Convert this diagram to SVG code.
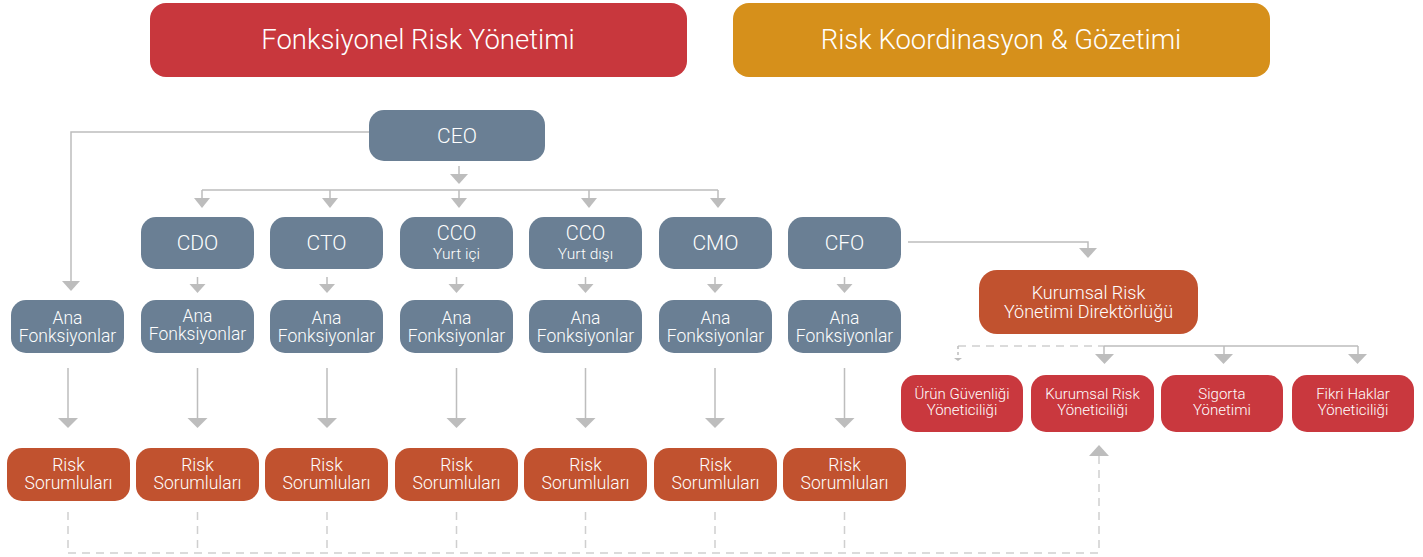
<svg xmlns="http://www.w3.org/2000/svg" width="1423" height="557" viewBox="0 0 1423 557">
<style>
.t{font-family:Roboto,"Liberation Sans",Arial,sans-serif;font-weight:300;fill:#fff;text-anchor:middle}
.m{font-size:17.5px}
.s{font-size:15px}
.slate{fill:#6A7F94}
.rust{fill:#C1522F}
.red{fill:#C9383E}
.ln{stroke:#BDBDBD;stroke-width:1.5;fill:none}
.dl{stroke:#CFCFCF;stroke-width:1.5;fill:none;stroke-dasharray:8 6}
.ah{fill:#BDBDBD}
</style>
<rect width="1423" height="557" fill="#fff"/>
<g id="header-fonksiyonel"><rect x="150" y="3" width="537" height="74" rx="16" fill="#C8373D"/><text class="t" x="418" y="49" font-size="27.5">Fonksiyonel Risk Yönetimi</text></g>
<g id="header-koordinasyon"><rect x="733" y="3" width="537" height="74" rx="16" fill="#D6901B"/><text class="t" x="1001" y="49" font-size="27.5">Risk Koordinasyon &amp; Gözetimi</text></g>

<g id="connectors">
<path class="ln" d="M369 132 H71 V282"/>
<polygon class="ah" points="62,281 80,281 71,291"/>
<path class="ln" d="M459 166 V176"/>
<polygon class="ah" points="450,174 468,174 459,184"/>
<path class="ln" d="M202 190 H718"/>
<path class="ln" d="M202 190 V200 M330 190 V200 M459 190 V200 M589 190 V200 M718 190 V200"/>
<polygon class="ah" points="194,198 210,198 202,208"/>
<polygon class="ah" points="322,198 338,198 330,208"/>
<polygon class="ah" points="451,198 467,198 459,208"/>
<polygon class="ah" points="581,198 597,198 589,208"/>
<polygon class="ah" points="710,198 726,198 718,208"/>
<path class="ln" d="M197.5 277 V287 M327 277 V287 M456.5 277 V287 M585.5 277 V287 M715 277 V287 M844.5 277 V287"/>
<polygon class="ah" points="189.5,284 205.5,284 197.5,293"/>
<polygon class="ah" points="319,284 335,284 327,293"/>
<polygon class="ah" points="448.5,284 464.5,284 456.5,293"/>
<polygon class="ah" points="577.5,284 593.5,284 585.5,293"/>
<polygon class="ah" points="707,284 723,284 715,293"/>
<polygon class="ah" points="836.5,284 852.5,284 844.5,293"/>
<path class="ln" d="M68 368 V420 M197.5 368 V420 M327 368 V420 M456.5 368 V420 M585.5 368 V420 M715 368 V420 M844.5 368 V420"/>
<polygon class="ah" points="58,418 78,418 68,428"/>
<polygon class="ah" points="187.5,418 207.5,418 197.5,428"/>
<polygon class="ah" points="317,418 337,418 327,428"/>
<polygon class="ah" points="446.5,418 466.5,418 456.5,428"/>
<polygon class="ah" points="575.5,418 595.5,418 585.5,428"/>
<polygon class="ah" points="705,418 725,418 715,428"/>
<polygon class="ah" points="834.5,418 854.5,418 844.5,428"/>
<path class="ln" d="M908 242 H1088 V250"/>
<polygon class="ah" points="1079,248 1097,248 1088,258"/>
<path class="dl" d="M958 346 H1104"/>
<path class="ln" d="M958 346 V356" stroke-dasharray="3 3"/>
<polygon class="ah" points="954,358 962,358 958,361"/>
<path class="ln" d="M1104 346 H1358 M1104 346 V355 M1224 346 V355 M1358 346 V355"/>
<polygon class="ah" points="1095,354 1114,354 1104.5,364"/>
<polygon class="ah" points="1214,354 1233,354 1223.5,364"/>
<polygon class="ah" points="1348,354 1367,354 1357.5,364"/>
<path class="dl" d="M68 512 V553 M197.5 512 V553 M327 512 V553 M456.5 512 V553 M585.5 512 V553 M715 512 V553 M844.5 512 V553"/>
<path class="dl" d="M68 553 H1099 V456"/>
<polygon class="ah" points="1089,456 1109,456 1099,445"/>
</g>

<g id="ceo"><rect class="slate" x="369" y="110" width="176" height="51" rx="15"/><text class="t" x="457" y="143" font-size="21">CEO</text></g>

<g id="cdo"><rect class="slate" x="141" y="217" width="113" height="52" rx="15"/><text class="t" x="197.5" y="250" font-size="21">CDO</text></g>
<g id="cto"><rect class="slate" x="270" y="217" width="113" height="52" rx="15"/><text class="t" x="326.5" y="250" font-size="21">CTO</text></g>
<g id="cco-yurtici"><rect class="slate" x="400" y="217" width="113" height="52" rx="15"/><text class="t" x="456.5" y="240" font-size="20">CCO</text><text class="t" x="456.5" y="259" font-size="15.5">Yurt içi</text></g>
<g id="cco-yurtdisi"><rect class="slate" x="529" y="217" width="113" height="52" rx="15"/><text class="t" x="585.5" y="240" font-size="20">CCO</text><text class="t" x="585.5" y="259" font-size="15.5">Yurt dışı</text></g>
<g id="cmo"><rect class="slate" x="659" y="217" width="113" height="52" rx="15"/><text class="t" x="715.5" y="250" font-size="21">CMO</text></g>
<g id="cfo"><rect class="slate" x="788" y="217" width="113" height="52" rx="15"/><text class="t" x="844.5" y="250" font-size="21">CFO</text></g>

<g id="ana-1"><rect class="slate" x="11" y="300" width="113" height="53" rx="15"/><text class="t m" x="67.5" y="324">Ana</text><text class="t m" x="67.5" y="342">Fonksiyonlar</text></g>
<g id="ana-2"><rect class="slate" x="141" y="300" width="113" height="53" rx="15"/><text class="t m" x="197.5" y="322">Ana</text><text class="t m" x="197.5" y="340">Fonksiyonlar</text></g>
<g id="ana-3"><rect class="slate" x="270" y="300" width="113" height="53" rx="15"/><text class="t m" x="326.5" y="324">Ana</text><text class="t m" x="326.5" y="342">Fonksiyonlar</text></g>
<g id="ana-4"><rect class="slate" x="400" y="300" width="113" height="53" rx="15"/><text class="t m" x="456.5" y="324">Ana</text><text class="t m" x="456.5" y="342">Fonksiyonlar</text></g>
<g id="ana-5"><rect class="slate" x="529" y="300" width="113" height="53" rx="15"/><text class="t m" x="585.5" y="324">Ana</text><text class="t m" x="585.5" y="342">Fonksiyonlar</text></g>
<g id="ana-6"><rect class="slate" x="659" y="300" width="113" height="53" rx="15"/><text class="t m" x="715.5" y="324">Ana</text><text class="t m" x="715.5" y="342">Fonksiyonlar</text></g>
<g id="ana-7"><rect class="slate" x="788" y="300" width="113" height="53" rx="15"/><text class="t m" x="844.5" y="324">Ana</text><text class="t m" x="844.5" y="342">Fonksiyonlar</text></g>

<g id="risk-1"><rect class="rust" x="7" y="448" width="123" height="53" rx="15"/><text class="t m" x="68.5" y="471">Risk</text><text class="t m" x="68.5" y="489">Sorumluları</text></g>
<g id="risk-2"><rect class="rust" x="136" y="448" width="123" height="53" rx="15"/><text class="t m" x="197.5" y="471">Risk</text><text class="t m" x="197.5" y="489">Sorumluları</text></g>
<g id="risk-3"><rect class="rust" x="265" y="448" width="123" height="53" rx="15"/><text class="t m" x="326.5" y="471">Risk</text><text class="t m" x="326.5" y="489">Sorumluları</text></g>
<g id="risk-4"><rect class="rust" x="395" y="448" width="123" height="53" rx="15"/><text class="t m" x="456.5" y="471">Risk</text><text class="t m" x="456.5" y="489">Sorumluları</text></g>
<g id="risk-5"><rect class="rust" x="524" y="448" width="123" height="53" rx="15"/><text class="t m" x="585.5" y="471">Risk</text><text class="t m" x="585.5" y="489">Sorumluları</text></g>
<g id="risk-6"><rect class="rust" x="654" y="448" width="123" height="53" rx="15"/><text class="t m" x="715.5" y="471">Risk</text><text class="t m" x="715.5" y="489">Sorumluları</text></g>
<g id="risk-7"><rect class="rust" x="783" y="448" width="123" height="53" rx="15"/><text class="t m" x="844.5" y="471">Risk</text><text class="t m" x="844.5" y="489">Sorumluları</text></g>

<g id="kryd"><rect class="rust" x="979" y="270" width="219" height="64" rx="18"/><text class="t" x="1088.5" y="299" font-size="18">Kurumsal Risk</text><text class="t" x="1088.5" y="318" font-size="18">Yönetimi Direktörlüğü</text></g>

<g id="urun"><rect class="red" x="901" y="375" width="122" height="57" rx="15"/><text class="t s" x="962" y="399">Ürün Güvenliği</text><text class="t s" x="962" y="415">Yöneticiliği</text></g>
<g id="kry"><rect class="red" x="1031" y="375" width="123" height="57" rx="15"/><text class="t s" x="1092.5" y="399">Kurumsal Risk</text><text class="t s" x="1092.5" y="415">Yöneticiliği</text></g>
<g id="sigorta"><rect class="red" x="1161" y="375" width="122" height="57" rx="15"/><text class="t s" x="1222" y="399">Sigorta</text><text class="t s" x="1222" y="415">Yönetimi</text></g>
<g id="fikri"><rect class="red" x="1292" y="375" width="122" height="57" rx="15"/><text class="t s" x="1353" y="399">Fikri Haklar</text><text class="t s" x="1353" y="415">Yöneticiliği</text></g>
</svg>
